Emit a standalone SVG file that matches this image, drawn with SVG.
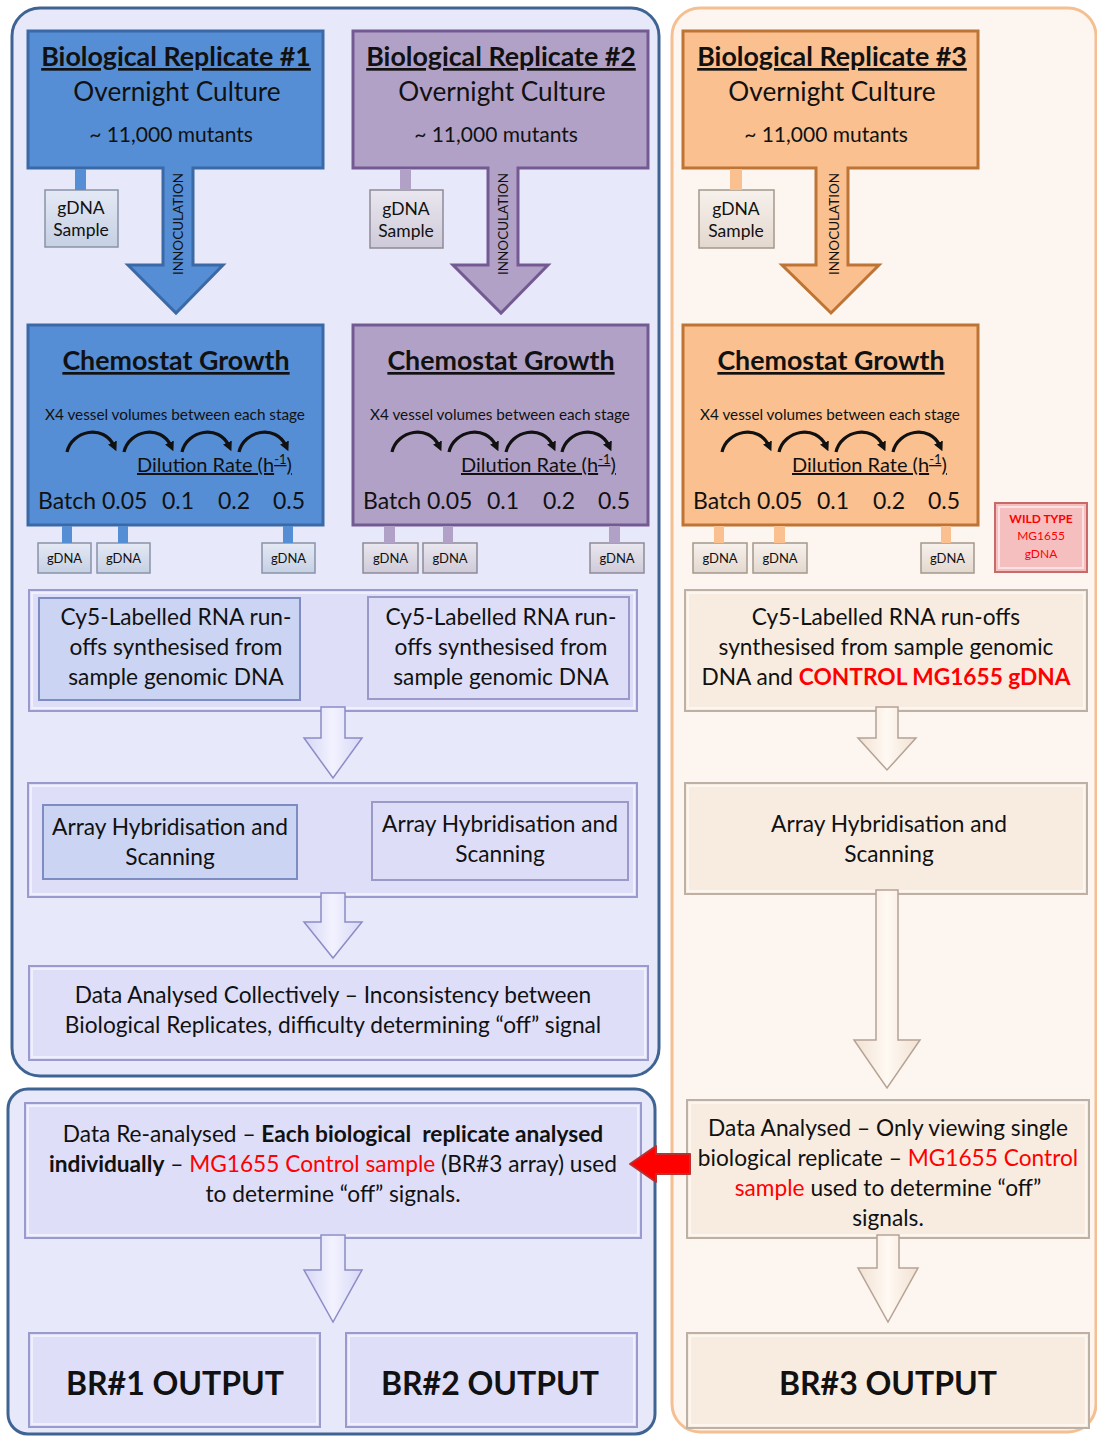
<svg xmlns="http://www.w3.org/2000/svg" width="1097" height="1436" viewBox="0 0 1097 1436">
  <defs>
    <style>
      text { font-family: Lato, "Open Sans", "Liberation Sans", sans-serif; fill: #111; }
      .t-title { font-size: 26.8px; font-weight: bold; text-decoration: underline; }
      .t-sub { font-size: 26.2px; }
      .t-mut { font-size: 21px; }
      .t-ino { font-size: 13.5px; }
      .t-samp { font-size: 17.5px; }
      .t-small { font-size: 15.3px; }
      .t-dil { font-size: 20px; text-decoration: underline; }
      .t-rate { font-size: 23px; }
      .t-g { font-size: 13px; }
      .t-body { font-size: 22.7px; }
      .t-out { font-size: 32px; font-weight: bold; }
      .red { fill: #FF0000; }
      .b { font-weight: bold; }
      .blue-main { fill: #558ED5; stroke: #3B69A5; stroke-width: 3; }
      .purp-main { fill: #B2A1C7; stroke: #735A93; stroke-width: 3; }
      .orng-main { fill: #FAC090; stroke: #BE7434; stroke-width: 3; }
      .lav-panel { fill: #DEDEF9; stroke: #9A9ACF; stroke-width: 2; }
      .lav-in1 { fill: #CBD4F3; stroke: #7D8DC2; stroke-width: 2; }
      .lav-in2 { fill: #DDDDF8; stroke: #9A9AC9; stroke-width: 2; }
      .pch-panel { fill: #F8ECE1; stroke: #BDB0A4; stroke-width: 2; }
      .hi { fill: none; stroke: #FFFFFF; stroke-opacity: 0.55; stroke-width: 2; }
      .g-blue { fill: url(#gBlue); stroke: #8993A8; stroke-width: 1.5; }
      .g-purp { fill: url(#gPurp); stroke: #8E8A98; stroke-width: 1.5; }
      .g-orng { fill: url(#gOrng); stroke: #A3988C; stroke-width: 1.5; }
      .lav-arrow { fill: url(#aLav); stroke: #8C8CC6; stroke-width: 1.5; }
      .pch-arrow { fill: url(#aPch); stroke: #B5A395; stroke-width: 1.5; }
      .curve { fill: none; stroke: #111; stroke-width: 3.2; marker-end: url(#ah); }
    </style>
    <linearGradient id="gBlue" x1="0" y1="0" x2="0" y2="1">
      <stop offset="0" stop-color="#E4E9F4"/>
      <stop offset="1" stop-color="#C6D0E4"/>
    </linearGradient>
    <linearGradient id="gPurp" x1="0" y1="0" x2="0" y2="1">
      <stop offset="0" stop-color="#E9E7EF"/>
      <stop offset="1" stop-color="#CFCAD9"/>
    </linearGradient>
    <linearGradient id="gOrng" x1="0" y1="0" x2="0" y2="1">
      <stop offset="0" stop-color="#F7F1EC"/>
      <stop offset="1" stop-color="#E3D8CE"/>
    </linearGradient>
    <linearGradient id="aLav" x1="0" y1="0" x2="1" y2="0">
      <stop offset="0" stop-color="#D7D7F6"/>
      <stop offset="0.5" stop-color="#F2F2FF"/>
      <stop offset="1" stop-color="#D7D7F6"/>
    </linearGradient>
    <linearGradient id="aPch" x1="0" y1="0" x2="1" y2="0">
      <stop offset="0" stop-color="#F1E1D2"/>
      <stop offset="0.5" stop-color="#FFF9F3"/>
      <stop offset="1" stop-color="#F1E1D2"/>
    </linearGradient>
    <marker id="ah" viewBox="0 0 10 10" refX="4" refY="5" markerWidth="3" markerHeight="3" orient="auto">
      <path d="M0,0 L10,5 L0,10 Z" fill="#111"/>
    </marker>
  </defs>

  <!-- containers -->
  <g id="containers">
    <rect x="12" y="8" width="647" height="1068" rx="28" fill="#E8E8FB" stroke="#3F6493" stroke-width="3"/>
    <rect x="8" y="1089" width="647" height="345" rx="20" fill="#E8E8FB" stroke="#3F6493" stroke-width="3"/>
    <rect x="672" y="8" width="424" height="1424" rx="28" fill="#FDF5EF" stroke="#F5C091" stroke-width="3"/>
  </g>

  <!-- replicate 1 -->
  <g id="br1-culture">
    <path class="blue-main" d="M28,31 H323 V168 H193 V265 H223 L176,313 L128,265 H163 V168 H28 Z"/>
    <text class="t-title" x="176" y="66" text-anchor="middle">Biological Replicate #1</text>
    <text class="t-sub" x="177" y="101" text-anchor="middle">Overnight Culture</text>
    <text class="t-mut" x="171" y="142" text-anchor="middle">~ 11,000 mutants</text>
    <text class="t-ino" transform="translate(183,224) rotate(-90)" text-anchor="middle">INNOCULATION</text>
  </g>
  <g id="br1-sample">
    <rect class="g-blue" x="45" y="190" width="73" height="57"/>
    <text class="t-samp" x="81" y="214" text-anchor="middle">gDNA</text>
    <text class="t-samp" x="81" y="236" text-anchor="middle">Sample</text>
  </g>
  <g id="br1-chemostat">
    <rect class="blue-main" x="28" y="325" width="295" height="200"/>
    <text class="t-title" x="176" y="370" text-anchor="middle">Chemostat Growth</text>
    <text class="t-small" x="175" y="420" text-anchor="middle">X4 vessel volumes between each stage</text>
    <path class="curve" d="M67,452 C72,430 104,424 114,446"/>
    <path class="curve" d="M124,452 C129,430 161,424 171,446"/>
    <path class="curve" d="M182,452 C187,430 219,424 229,446"/>
    <path class="curve" d="M239,452 C244,430 276,424 286,446"/>
    <text class="t-dil" x="137" y="472">Dilution Rate (h<tspan font-size="13" dy="-8">-1</tspan><tspan dy="8">)</tspan></text>
    <text class="t-rate" y="509"><tspan x="38">Batch</tspan><tspan x="102">0.05</tspan><tspan x="162">0.1</tspan><tspan x="218">0.2</tspan><tspan x="273">0.5</tspan></text>
  </g>
  <g id="br1-gdna">
    <rect class="g-blue" x="38" y="543" width="53" height="30"/>
    <text class="t-g" x="64.5" y="563" text-anchor="middle">gDNA</text>
    <rect class="g-blue" x="97" y="543" width="53" height="30"/>
    <text class="t-g" x="123.5" y="563" text-anchor="middle">gDNA</text>
    <rect class="g-blue" x="262" y="543" width="53" height="30"/>
    <text class="t-g" x="288.5" y="563" text-anchor="middle">gDNA</text>
  </g>

  <!-- replicate 2 -->
  <g id="br2-culture">
    <path class="purp-main" d="M353,31 H648 V168 H518 V265 H548 L501,313 L453,265 H488 V168 H353 Z"/>
    <text class="t-title" x="501" y="66" text-anchor="middle">Biological Replicate #2</text>
    <text class="t-sub" x="502" y="101" text-anchor="middle">Overnight Culture</text>
    <text class="t-mut" x="496" y="142" text-anchor="middle">~ 11,000 mutants</text>
    <text class="t-ino" transform="translate(508,224) rotate(-90)" text-anchor="middle">INNOCULATION</text>
  </g>
  <g id="br2-sample">
    <rect class="g-purp" x="370" y="190" width="73" height="58"/>
    <text class="t-samp" x="406" y="215" text-anchor="middle">gDNA</text>
    <text class="t-samp" x="406" y="237" text-anchor="middle">Sample</text>
  </g>
  <g id="br2-chemostat">
    <rect class="purp-main" x="353" y="325" width="295" height="200"/>
    <text class="t-title" x="501" y="370" text-anchor="middle">Chemostat Growth</text>
    <text class="t-small" x="500" y="420" text-anchor="middle">X4 vessel volumes between each stage</text>
    <path class="curve" d="M392,452 C397,430 429,424 439,446"/>
    <path class="curve" d="M449,452 C454,430 486,424 496,446"/>
    <path class="curve" d="M506,452 C511,430 543,424 553,446"/>
    <path class="curve" d="M562,452 C567,430 599,424 609,446"/>
    <text class="t-dil" x="461" y="472">Dilution Rate (h<tspan font-size="13" dy="-8">-1</tspan><tspan dy="8">)</tspan></text>
    <text class="t-rate" y="509"><tspan x="363">Batch</tspan><tspan x="427">0.05</tspan><tspan x="487">0.1</tspan><tspan x="543">0.2</tspan><tspan x="598">0.5</tspan></text>
  </g>
  <g id="br2-gdna">
    <rect class="g-purp" x="363" y="543" width="55" height="30"/>
    <text class="t-g" x="390.5" y="563" text-anchor="middle">gDNA</text>
    <rect class="g-purp" x="423" y="543" width="54" height="30"/>
    <text class="t-g" x="450" y="563" text-anchor="middle">gDNA</text>
    <rect class="g-purp" x="590" y="543" width="54" height="30"/>
    <text class="t-g" x="617" y="563" text-anchor="middle">gDNA</text>
  </g>

  <!-- replicate 3 -->
  <g id="br3-culture">
    <path class="orng-main" d="M683,31 H978 V168 H848 V265 H879 L831,313 L782,265 H816 V168 H683 Z"/>
    <text class="t-title" x="832" y="66" text-anchor="middle">Biological Replicate #3</text>
    <text class="t-sub" x="832" y="101" text-anchor="middle">Overnight Culture</text>
    <text class="t-mut" x="826" y="142" text-anchor="middle">~ 11,000 mutants</text>
    <text class="t-ino" transform="translate(839,224) rotate(-90)" text-anchor="middle">INNOCULATION</text>
  </g>
  <g id="br3-sample">
    <rect class="g-orng" x="699" y="190" width="75" height="58"/>
    <text class="t-samp" x="736" y="215" text-anchor="middle">gDNA</text>
    <text class="t-samp" x="736" y="237" text-anchor="middle">Sample</text>
  </g>
  <g id="br3-chemostat">
    <rect class="orng-main" x="683" y="325" width="295" height="200"/>
    <text class="t-title" x="831" y="370" text-anchor="middle">Chemostat Growth</text>
    <text class="t-small" x="830" y="420" text-anchor="middle">X4 vessel volumes between each stage</text>
    <path class="curve" d="M722,452 C727,430 759,424 769,446"/>
    <path class="curve" d="M779,452 C784,430 816,424 826,446"/>
    <path class="curve" d="M836,452 C841,430 873,424 883,446"/>
    <path class="curve" d="M893,452 C898,430 930,424 940,446"/>
    <text class="t-dil" x="792" y="472">Dilution Rate (h<tspan font-size="13" dy="-8">-1</tspan><tspan dy="8">)</tspan></text>
    <text class="t-rate" y="509"><tspan x="693">Batch</tspan><tspan x="757">0.05</tspan><tspan x="817">0.1</tspan><tspan x="873">0.2</tspan><tspan x="928">0.5</tspan></text>
  </g>
  <g id="br3-gdna">
    <rect class="g-orng" x="693" y="543" width="54" height="30"/>
    <text class="t-g" x="720" y="563" text-anchor="middle">gDNA</text>
    <rect class="g-orng" x="753" y="543" width="54" height="30"/>
    <text class="t-g" x="780" y="563" text-anchor="middle">gDNA</text>
    <rect class="g-orng" x="921" y="543" width="53" height="30"/>
    <text class="t-g" x="947.5" y="563" text-anchor="middle">gDNA</text>
  </g>
  <g id="wild-type">
    <rect x="995" y="503" width="92" height="69" fill="#F6BFBF" stroke="#C86A6A" stroke-width="2"/>
    <rect class="hi" x="999" y="507" width="84" height="61"/>
    <text x="1041" y="523" text-anchor="middle" font-size="12" font-weight="bold" class="red">WILD TYPE</text>
    <text x="1041" y="540" text-anchor="middle" font-size="12" class="red">MG1655</text>
    <text x="1041" y="558" text-anchor="middle" font-size="12" class="red">gDNA</text>
  </g>

  <!-- left column processing -->
  <g id="cy5-left">
    <rect class="lav-panel" x="29" y="590" width="608" height="121"/>
    <rect class="hi" x="32" y="593" width="602" height="115"/>
    <rect class="lav-in1" x="39" y="598" width="261" height="102"/>
    <text class="t-body" x="176" y="625" text-anchor="middle">Cy5-Labelled RNA run-</text>
    <text class="t-body" x="176" y="655" text-anchor="middle">offs synthesised from</text>
    <text class="t-body" x="176" y="685" text-anchor="middle">sample genomic DNA</text>
    <rect class="lav-in2" x="368" y="597" width="261" height="102"/>
    <text class="t-body" x="501" y="625" text-anchor="middle">Cy5-Labelled RNA run-</text>
    <text class="t-body" x="501" y="655" text-anchor="middle">offs synthesised from</text>
    <text class="t-body" x="501" y="685" text-anchor="middle">sample genomic DNA</text>
  </g>
  <g id="array-left">
    <rect class="lav-panel" x="28" y="783" width="609" height="114"/>
    <rect class="hi" x="31" y="786" width="603" height="108"/>
    <rect class="lav-in1" x="43" y="805" width="254" height="74"/>
    <text class="t-body" x="170" y="835" text-anchor="middle">Array Hybridisation and</text>
    <text class="t-body" x="170" y="865" text-anchor="middle">Scanning</text>
    <rect class="lav-in2" x="372" y="802" width="256" height="78"/>
    <text class="t-body" x="500" y="832" text-anchor="middle">Array Hybridisation and</text>
    <text class="t-body" x="500" y="862" text-anchor="middle">Scanning</text>
  </g>
  <g id="collective-analysis">
    <rect class="lav-panel" x="29" y="966" width="619" height="94"/>
    <rect class="hi" x="32" y="969" width="613" height="88"/>
    <text class="t-body" x="333" y="1003" text-anchor="middle">Data Analysed Collectively – Inconsistency between</text>
    <text class="t-body" x="333" y="1033" text-anchor="middle">Biological Replicates, difficulty determining “off” signal</text>
  </g>
  <g id="reanalysis">
    <rect class="lav-panel" x="25" y="1103" width="616" height="135"/>
    <rect class="hi" x="28" y="1106" width="610" height="129"/>
    <text class="t-body" x="333" y="1142" text-anchor="middle" xml:space="preserve">Data Re-analysed – <tspan class="b">Each biological  replicate analysed</tspan></text>
    <text class="t-body" x="333" y="1172" text-anchor="middle"><tspan class="b">individually</tspan> – <tspan class="red">MG1655 Control sample</tspan> (BR#3 array) used</text>
    <text class="t-body" x="333" y="1202" text-anchor="middle">to determine “off” signals.</text>
  </g>
  <g id="br1-output">
    <rect class="lav-panel" x="29" y="1333" width="291" height="94"/>
    <rect class="hi" x="32" y="1336" width="285" height="88"/>
    <text class="t-out" x="175" y="1395" text-anchor="middle">BR#1 OUTPUT</text>
  </g>
  <g id="br2-output">
    <rect class="lav-panel" x="346" y="1333" width="291" height="94"/>
    <rect class="hi" x="349" y="1336" width="285" height="88"/>
    <text class="t-out" x="490" y="1395" text-anchor="middle">BR#2 OUTPUT</text>
  </g>

  <!-- right column processing -->
  <g id="cy5-right">
    <rect class="pch-panel" x="685" y="590" width="402" height="121"/>
    <rect class="hi" x="688" y="593" width="396" height="115"/>
    <text class="t-body" x="886" y="625" text-anchor="middle">Cy5-Labelled RNA run-offs</text>
    <text class="t-body" x="886" y="655" text-anchor="middle">synthesised from sample genomic</text>
    <text class="t-body" x="886" y="685" text-anchor="middle">DNA and <tspan class="red b">CONTROL MG1655 gDNA</tspan></text>
  </g>
  <g id="array-right">
    <rect class="pch-panel" x="685" y="783" width="402" height="111"/>
    <rect class="hi" x="688" y="786" width="396" height="105"/>
    <text class="t-body" x="889" y="832" text-anchor="middle">Array Hybridisation and</text>
    <text class="t-body" x="889" y="862" text-anchor="middle">Scanning</text>
  </g>
  <g id="single-analysis">
    <rect class="pch-panel" x="687" y="1100" width="402" height="138"/>
    <rect class="hi" x="690" y="1103" width="396" height="132"/>
    <text class="t-body" x="888" y="1136" text-anchor="middle">Data Analysed – Only viewing single</text>
    <text class="t-body" x="888" y="1166" text-anchor="middle">biological replicate – <tspan class="red">MG1655 Control</tspan></text>
    <text class="t-body" x="888" y="1196" text-anchor="middle"><tspan class="red">sample</tspan> used to determine “off”</text>
    <text class="t-body" x="888" y="1226" text-anchor="middle">signals.</text>
  </g>
  <g id="br3-output">
    <rect class="pch-panel" x="687" y="1333" width="402" height="95"/>
    <rect class="hi" x="690" y="1336" width="396" height="89"/>
    <text class="t-out" x="888" y="1395" text-anchor="middle">BR#3 OUTPUT</text>
  </g>

  <!-- connectors -->
  <g id="connectors">
    <!-- stubs to sample boxes -->
    <rect x="75" y="169" width="11" height="21" fill="#558ED5"/>
    <rect x="400" y="169" width="11" height="21" fill="#B2A1C7"/>
    <rect x="730" y="169" width="12" height="21" fill="#FAC090"/>
    <rect x="62" y="526" width="10" height="17" fill="#558ED5"/>
    <rect x="118" y="526" width="10" height="17" fill="#558ED5"/>
    <rect x="283" y="526" width="10" height="17" fill="#558ED5"/>
    <rect x="384" y="526" width="11" height="17" fill="#B2A1C7"/>
    <rect x="443" y="526" width="10" height="17" fill="#B2A1C7"/>
    <rect x="609" y="526" width="11" height="17" fill="#B2A1C7"/>
    <rect x="714" y="526" width="10" height="17" fill="#FAC090"/>
    <rect x="774" y="526" width="11" height="17" fill="#FAC090"/>
    <rect x="941" y="526" width="10" height="17" fill="#FAC090"/>
    <!-- flow arrows, left column -->
    <path class="lav-arrow" d="M321,707 H345 V738 H362 L333,778 L304,738 H321 Z"/>
    <path class="lav-arrow" d="M321,893 H345 V922 H362 L333,958 L304,922 H321 Z"/>
    <path class="lav-arrow" d="M321,1235 H345 V1270 H362 L333,1322 L304,1270 H321 Z"/>
    <!-- flow arrows, right column -->
    <path class="pch-arrow" d="M876,707 H898 V738 H916 L887,770 L858,738 H876 Z"/>
    <path class="pch-arrow" d="M876,890 H898 V1040 H920 L887,1088 L854,1040 H876 Z"/>
    <path class="pch-arrow" d="M877,1235 H899 V1268 H918 L888,1322 L858,1268 H877 Z"/>
    <!-- BR#3 result fed back to the re-analysis -->
    <path d="M690,1154 H656 V1146 L630,1164 L656,1182 V1174 H690 Z" fill="#FF0000" stroke="#B83232" stroke-width="2" stroke-linejoin="round"/>
  </g>
</svg>
